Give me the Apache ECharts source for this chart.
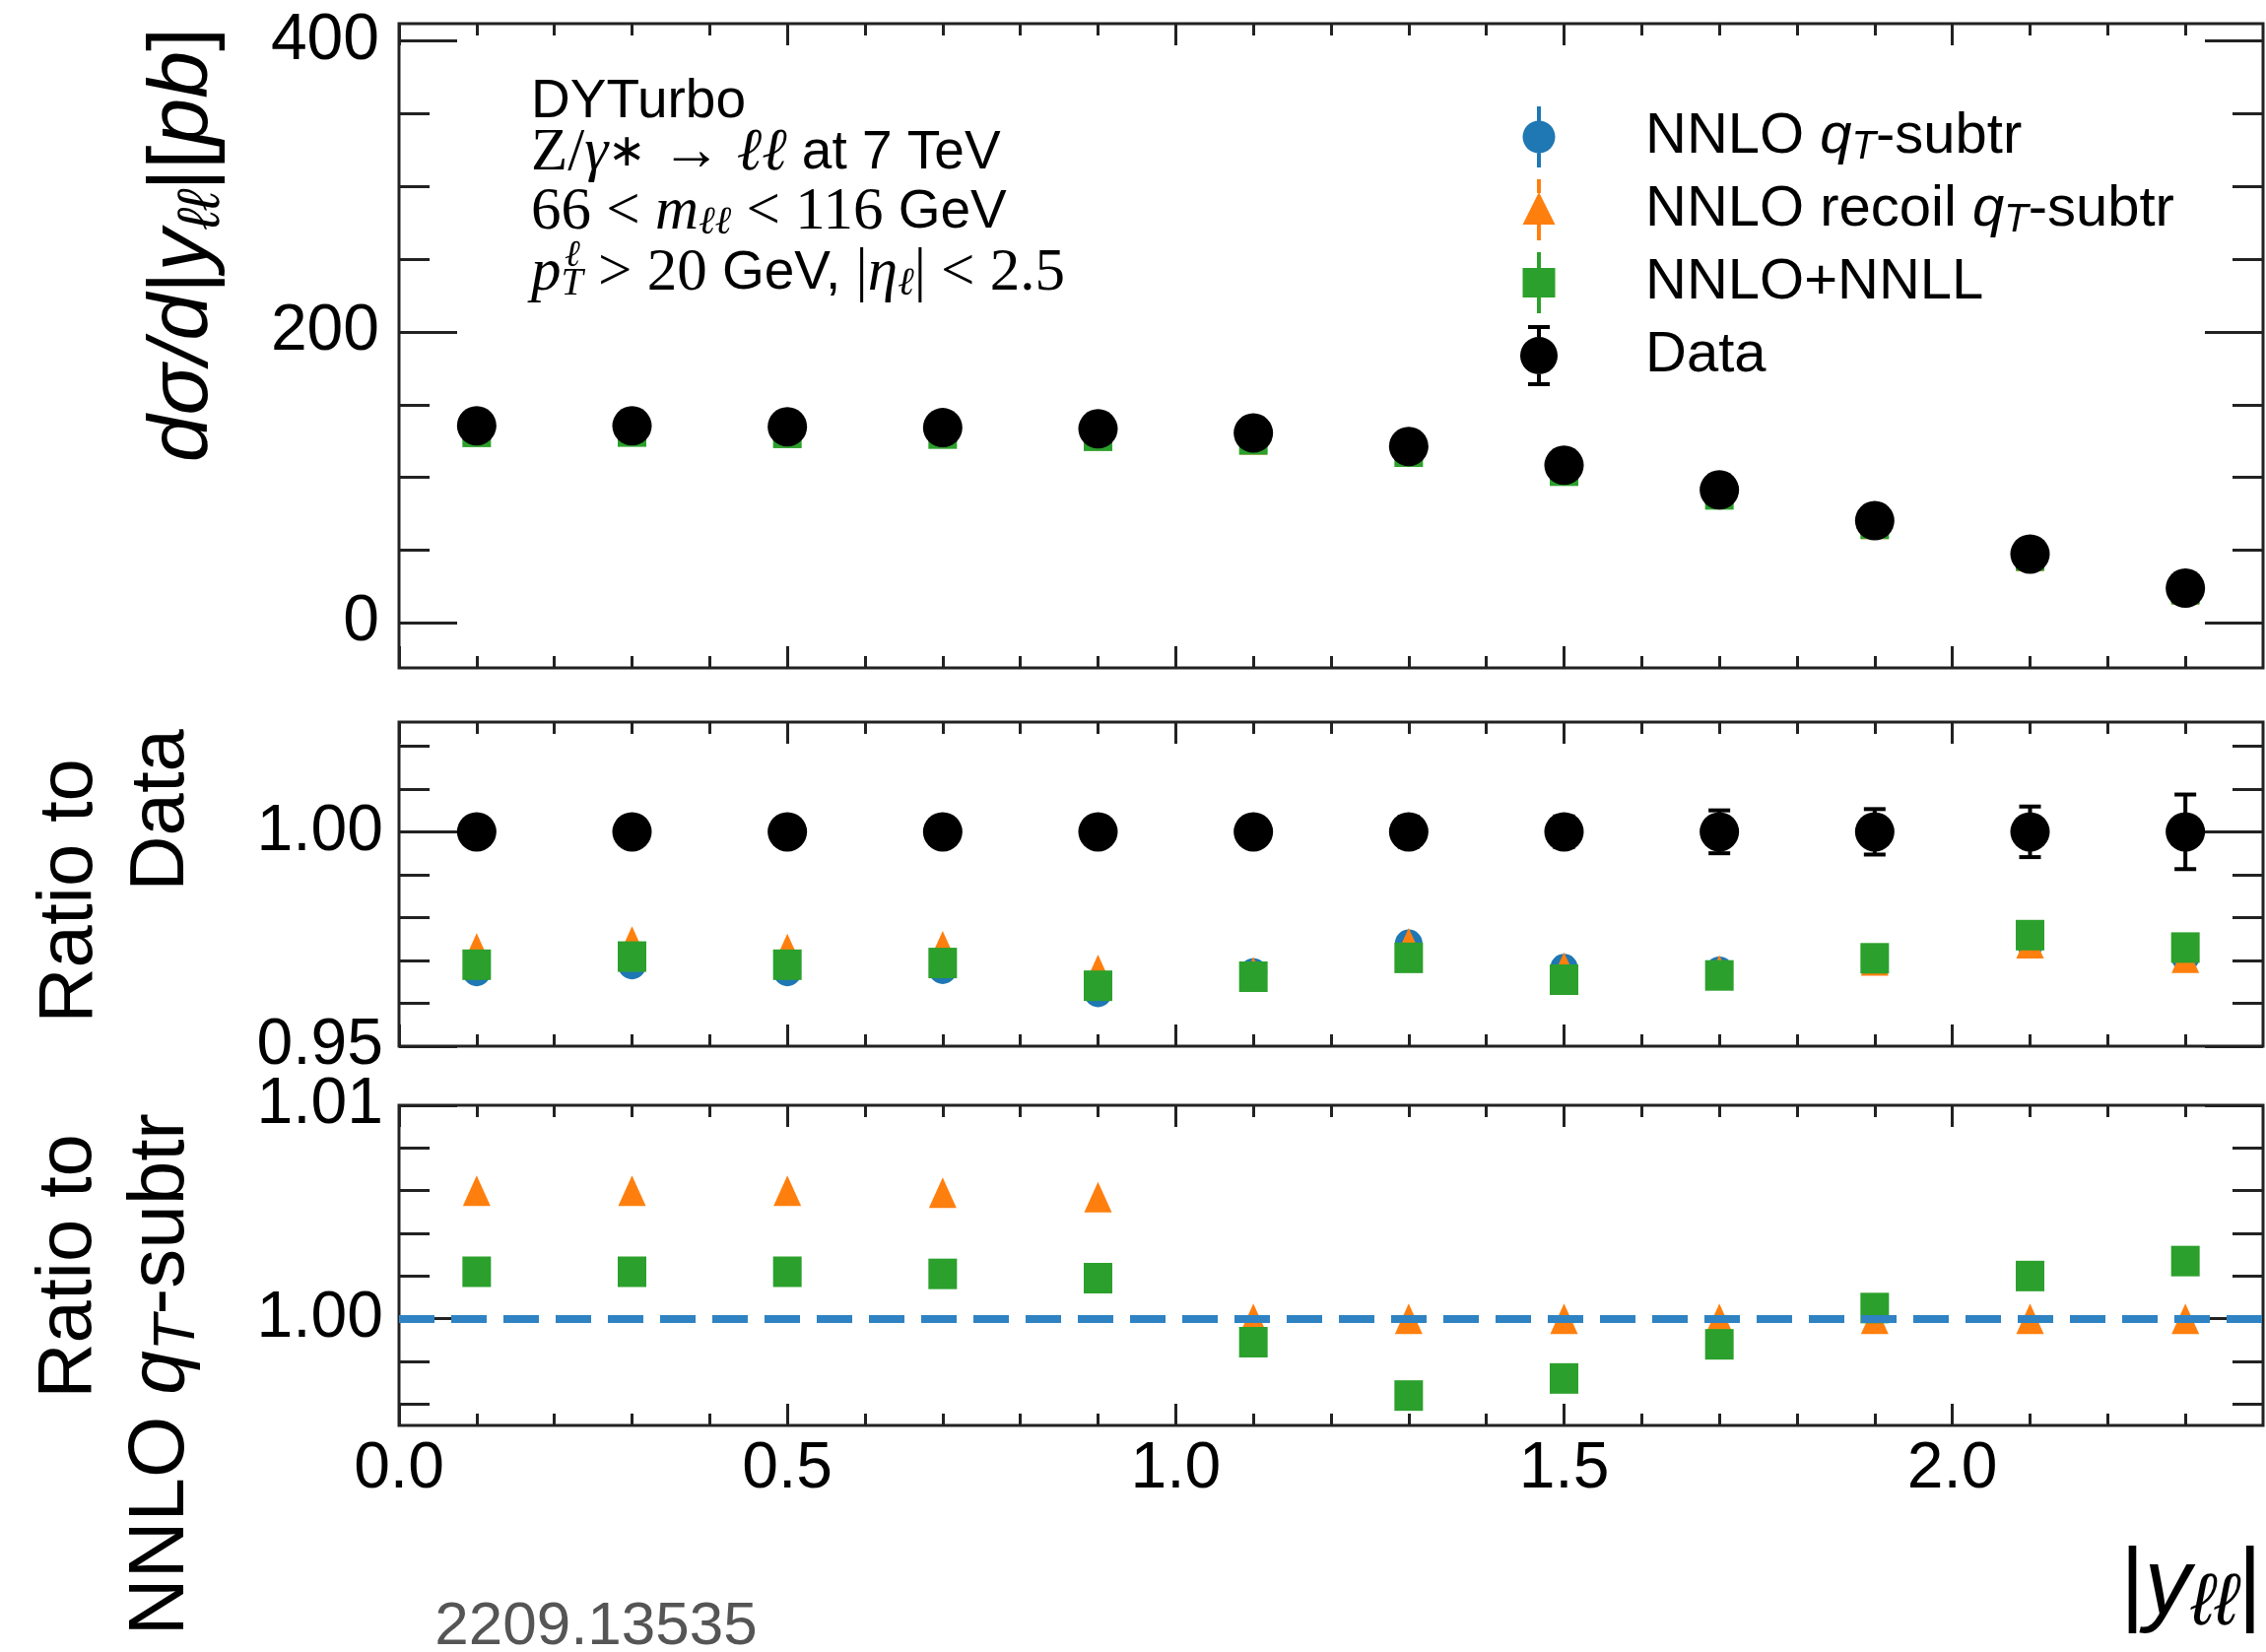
<!DOCTYPE html>
<html><head><meta charset="utf-8">
<script src="https://cdn.jsdelivr.net/npm/echarts@6/dist/echarts.min.js"></script>
<style>html,body{margin:0;padding:0;background:#fff}#c{width:2300px;height:1677px}</style>
</head><body><div id="c"></div>
<script>
// ---------- data ----------
const xBins = [0.1, 0.3, 0.5, 0.7, 0.9, 1.1, 1.3, 1.5, 1.7, 1.9, 2.1, 2.3];
const dataXsec   = [135.5, 135.4, 134.8, 134.2, 133.4, 130.5, 121.3, 108.3, 91.4, 70.2, 47.3, 23.8];
const qtXsec     = [131.1, 131.2, 130.4, 129.9, 128.4, 126.2, 118.2, 104.9, 88.5, 68.1, 46.1, 23.1];
const recoilXsec = [131.8, 131.9, 131.1, 130.6, 129.1, 126.2, 118.2, 104.9, 88.5, 68.1, 46.1, 23.1];
const resumXsec  = [131.3, 131.5, 130.6, 130.1, 128.6, 126.1, 117.7, 104.6, 88.3, 68.1, 46.2, 23.2];
const dataRatio    = [1, 1, 1, 1, 1, 1, 1, 1, 1, 1, 1, 1];
const dataRatioErr = [0.003, 0.003, 0.003, 0.003, 0.003, 0.003, 0.0035, 0.0036, 0.0050, 0.0053, 0.0059, 0.0087];
const qtRatio     = [0.9672, 0.9688, 0.9672, 0.9677, 0.9623, 0.9673, 0.9740, 0.9683, 0.9677, 0.9700, 0.9740, 0.9706];
const recoilRatio = [0.9728, 0.9744, 0.9727, 0.9733, 0.9678, 0.9673, 0.9740, 0.9683, 0.9677, 0.9700, 0.9740, 0.9706];
const resumRatio  = [0.9690, 0.9709, 0.9690, 0.9694, 0.9641, 0.9662, 0.9706, 0.9655, 0.9665, 0.9705, 0.9759, 0.9730];
const recoilOverQt = [1.0060, 1.0060, 1.0060, 1.0059, 1.0057, 1.0000, 1.0000, 1.0000, 1.0000, 1.0000, 1.0000, 1.0000];
const resumOverQt  = [1.0022, 1.0022, 1.0022, 1.0021, 1.0019, 0.9989, 0.9964, 0.9972, 0.9988, 1.0005, 1.0020, 1.0027];
const qtReference = 1.0;

// ---------- ticks ----------
const xMajorTicks = [0, 0.5, 1.0, 1.5, 2.0];
const xMinorTicks = [0.1, 0.2, 0.3, 0.4, 0.6, 0.7, 0.8, 0.9, 1.1, 1.2, 1.3, 1.4, 1.6, 1.7, 1.8, 1.9, 2.1, 2.2, 2.3];
const topMajorTicks = [0, 200, 400];
const topMinorTicks = [0, 50, 100, 150, 250, 300, 350];
const midMajorTicks = [0.95, 1.00];
const midMinorTicks = [0.96, 0.97, 0.98, 0.99, 1.01, 1.02];
const botMajorTicks = [1.00, 1.01];
const botMinorTicks = [0.996, 0.998, 1.002, 1.004, 1.006, 1.008];
const yRanges = [[-31, 412], [0.95, 1.0256], [0.995, 1.01]];
const yLabelDigits = [0, 2, 2];

const QT = 'NNLO qT-subtr', REC = 'NNLO recoil qT-subtr', RES = 'NNLO+NNLL', DATA = 'Data';
const BLUE = '#1f77b4', ORANGE = '#ff7f0e', GREEN = '#2ca02c', BLACK = '#000000';
const FONT = 'Liberation Sans', SERIF = 'Liberation Serif';
const TICKC = '#222';

const grids = [
  {left: 405, right: 3, top: 24, height: 654},
  {left: 405, right: 3, top: 733, height: 329},
  {left: 405, right: 3, top: 1122, height: 325}
].map(g => Object.assign(g, {show: true, borderColor: '#222', borderWidth: 3, backgroundColor: 'transparent', containLabel: false, outerBoundsMode: 'none'}));

const yMajors = [topMajorTicks, midMajorTicks, botMajorTicks];
const yMinors = [topMinorTicks, midMinorTicks, botMinorTicks];
const yMargins = [20, 16, 16];

function xAx(g, pos, ticks, len, withLabels) {
  return {
    type: 'value', gridIndex: g, position: pos, min: 0, max: 2.4,
    axisLine: {show: false, onZero: false}, splitLine: {show: false},
    axisTick: {show: true, inside: true, length: len, customValues: ticks, lineStyle: {color: TICKC, width: 3}},
    axisLabel: withLabels ? {show: true, customValues: xMajorTicks, formatter: v => Number(v).toFixed(1),
      fontSize: 66, fontFamily: FONT, color: '#000', margin: 12, showMinLabel: true, showMaxLabel: true} : {show: false}
  };
}
function yAx(g, pos, ticks, len, withLabels) {
  return {
    type: 'value', gridIndex: g, position: pos, min: yRanges[g][0], max: yRanges[g][1],
    axisLine: {show: false, onZero: false}, splitLine: {show: false},
    axisTick: {show: true, inside: true, length: len, customValues: ticks, lineStyle: {color: TICKC, width: 3}},
    axisLabel: withLabels ? {show: true, customValues: yMajors[g], formatter: v => Number(v).toFixed(yLabelDigits[g]),
      fontSize: 66, fontFamily: FONT, color: '#000', margin: yMargins[g], showMinLabel: true, showMaxLabel: true} : {show: false}
  };
}
const xAxes = [], yAxes = [];
for (let g = 0; g < 3; g++) {
  xAxes.push(xAx(g, 'bottom', xMinorTicks, 12, g === 2));
  xAxes.push(xAx(g, 'bottom', xMajorTicks, 22, false));
  xAxes.push(xAx(g, 'top', xMinorTicks, 12, false));
  xAxes.push(xAx(g, 'top', xMajorTicks, 22, false));
  yAxes.push(yAx(g, 'left', yMinors[g], 31, true));
  yAxes.push(yAx(g, 'left', yMajors[g], 59, false));
  yAxes.push(yAx(g, 'right', yMinors[g], 31, false));
  yAxes.push(yAx(g, 'right', yMajors[g], 59, false));
}

function pts(ys) { return xBins.map((x, i) => [x, ys[i]]); }
function sc(name, g, ys, symbol, size, color) {
  return {type: 'scatter', name, xAxisIndex: g * 4, yAxisIndex: g * 4, data: pts(ys),
    symbol, symbolSize: size, itemStyle: {color, opacity: 1}, silent: true, emphasis: {disabled: true}};
}

const errSeries = {
  type: 'custom', name: 'dataErr', xAxisIndex: 4, yAxisIndex: 4, silent: true,
  data: xBins.map((x, i) => [x, dataRatio[i] - dataRatioErr[i], dataRatio[i] + dataRatioErr[i]]),
  encode: {x: 0, y: [1, 2]},
  renderItem: (params, api) => {
    const lo = api.coord([api.value(0), api.value(1)]);
    const hi = api.coord([api.value(0), api.value(2)]);
    const c = 11, st = {stroke: '#000', lineWidth: 4};
    return {type: 'group', children: [
      {type: 'line', shape: {x1: lo[0], y1: lo[1], x2: hi[0], y2: hi[1]}, style: st},
      {type: 'line', shape: {x1: lo[0] - c, y1: lo[1], x2: lo[0] + c, y2: lo[1]}, style: st},
      {type: 'line', shape: {x1: hi[0] - c, y1: hi[1], x2: hi[0] + c, y2: hi[1]}, style: st}
    ]};
  }
};

const recoilBottom = sc(REC, 2, recoilOverQt, 'triangle', [28, 31], ORANGE);
recoilBottom.markLine = {silent: true, symbol: 'none', label: {show: false}, animation: false,
  lineStyle: {color: '#2f83c3', width: 8, type: [36, 17], opacity: 1},
  emphasis: {disabled: true},
  data: [{yAxis: qtReference}]};

const series = [
  sc(QT, 0, qtXsec, 'circle', 28, BLUE),
  sc(REC, 0, recoilXsec, 'triangle', [28, 31], ORANGE),
  sc(RES, 0, resumXsec, 'rect', [29, 31], GREEN),
  sc(DATA, 0, dataXsec, 'circle', 40, BLACK),
  errSeries,
  sc(DATA, 1, dataRatio, 'circle', 40, BLACK),
  sc(QT, 1, qtRatio, 'circle', 28, BLUE),
  sc(REC, 1, recoilRatio, 'triangle', [28, 31], ORANGE),
  sc(RES, 1, resumRatio, 'rect', [29, 31], GREEN),
  recoilBottom,
  sc(RES, 2, resumOverQt, 'rect', [29, 31], GREEN)
];

// legend icons (box 40 x 62, bar through marker)
const ICONS = {
  [QT]: 'path://M18 0H22V15H18Z M18 47H22V62H18Z M3.5 31A16.5 16.5 0 1 1 36.5 31A16.5 16.5 0 1 1 3.5 31Z',
  [REC]: 'path://M18 0H22V14H18Z M18 46H22V62H18Z M20 13L36.5 46H3.5Z',
  [RES]: 'path://M18 0H22V16H18Z M18 46H22V62H18Z M3.5 16H36.5V46H3.5Z',
  [DATA]: 'path://M9 0H31V4H9Z M18 4H22V12H18Z M18 50H22V58H18Z M9 58H31V62H9Z M1 31A19 19 0 1 1 39 31A19 19 0 1 1 1 31Z'
};
const LEG_TEXT = {
  [QT]: '{n|NNLO }{q|q}{t|T}{n|-subtr}',
  [REC]: '{n|NNLO recoil }{q|q}{t|T}{n|-subtr}',
  [RES]: '{n|NNLO+NNLL}',
  [DATA]: '{n|Data}'
};

const RICH = {
  s: {fontSize: 55, fontFamily: FONT, fill: '#000', lineHeight: 60},
  r: {fontSize: 61, fontFamily: SERIF, fill: '#000', lineHeight: 60},
  ra: {fontSize: 46, fontFamily: SERIF, fill: '#000', lineHeight: 60},
  ri: {fontSize: 61, fontFamily: SERIF, fontStyle: 'italic', fill: '#000', lineHeight: 60},
  rsub: {fontSize: 40, fontFamily: SERIF, fontStyle: 'italic', fill: '#000', lineHeight: 26, verticalAlign: 'bottom'}
};
function trich(main, sub) {
  return {
    n: {fontSize: main, fontFamily: FONT, fill: '#000', lineHeight: main + 12},
    i: {fontSize: main, fontFamily: FONT, fontStyle: 'italic', fill: '#000', lineHeight: main + 12},
    sub: {fontSize: sub, fontFamily: FONT, fontStyle: 'italic', fill: '#000', lineHeight: Math.round(sub * 0.75), verticalAlign: 'bottom'}
  };
}
function rotTitle(x, y, text, main, sub) {
  return {type: 'text', x, y, rotation: Math.PI / 2, silent: true,
    style: {text, rich: trich(main, sub), align: 'right', verticalAlign: 'middle', fill: '#000', fontSize: main, fontFamily: FONT}};
}
function line(x, y, text) {
  return {type: 'text', x, y, silent: true,
    style: {text, rich: RICH, align: 'left', verticalAlign: 'middle', fill: '#000', fontSize: 55, fontFamily: FONT}};
}

const graphic = [
  line(539, 104, '{s|DYTurbo}'),
  line(539, 156, '{r|Z/}{ri|γ}{ra|∗}{r| → }{ri|ℓℓ}{s| at 7 TeV}'),
  line(539, 216, '{r|66 < }{ri|m}{rsub|ℓℓ}{r| < 116}{s| GeV}'),
  line(539, 278, '{ri|p}{rsub|T}{r| > 20}{s| GeV, }{r||}{ri|η}{rsub|ℓ}{r|| < 2.5}'),
  {type: 'text', x: 573, y: 260, silent: true, style: {text: 'ℓ', fontSize: 38, fontFamily: SERIF, fontStyle: 'italic', fill: '#000', verticalAlign: 'middle'}},
  rotTitle(186, 28, '{i|dσ/d}{n||}{i|y}{sub|ℓℓ}{n||[}{i|pb}{n|]}', 86, 60),
  rotTitle(71, 770, '{n|Ratio to}', 78, 54),
  rotTitle(164, 740, '{n|Data}', 78, 54),
  rotTitle(70, 1151, '{n|Ratio to}', 78, 54),
  rotTitle(164, 1130, '{n|NNLO }{i|q}{sub|T}{n|-subtr}', 80, 60),
  {type: 'text', x: 2296, y: 1612, silent: true,
    style: {text: '{n||}{i|y}{sub|ℓℓ}{n||}', rich: trich(94, 74), align: 'right', verticalAlign: 'middle', fill: '#000'}},
  {type: 'text', x: 605, y: 1652, silent: true,
    style: {text: '2209.13535', fontSize: 62, fontFamily: FONT, fill: '#555', align: 'center', verticalAlign: 'middle'}}
];

const chart = echarts.init(document.getElementById('c'), null, {renderer: 'canvas', width: 2300, height: 1677});
chart.setOption({
  animation: false,
  backgroundColor: '#ffffff',
  grid: grids,
  xAxis: xAxes,
  yAxis: yAxes,
  legend: {
    orient: 'vertical', left: 1543, top: 108, padding: 0,
    itemWidth: 206, itemHeight: 62, itemGap: 12, selectedMode: false,
    symbolKeepAspect: true,
    data: [QT, REC, RES, DATA].map(n => ({name: n, icon: ICONS[n]})),
    formatter: n => LEG_TEXT[n],
    textStyle: {fontSize: 58, fontFamily: FONT, color: '#000', lineHeight: 62,
      rich: {
        n: {fontSize: 58, fontFamily: FONT, color: '#000', lineHeight: 62},
        q: {fontSize: 58, fontFamily: FONT, fontStyle: 'italic', color: '#000', lineHeight: 62},
        t: {fontSize: 40, fontFamily: FONT, fontStyle: 'italic', color: '#000', lineHeight: 30, verticalAlign: 'bottom'}
      }}
  },
  series,
  graphic
});
</script></body></html>
